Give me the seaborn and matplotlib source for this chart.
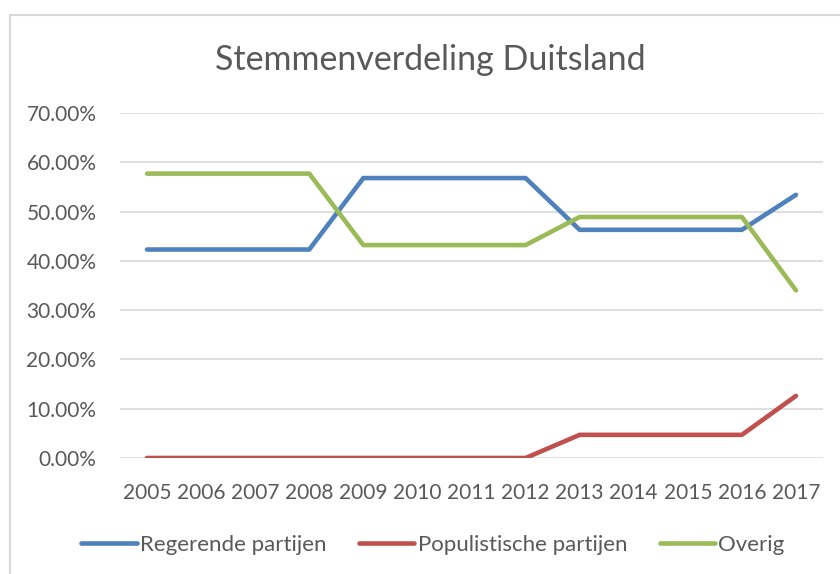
import matplotlib
matplotlib.use("Agg")
import matplotlib.pyplot as plt
from matplotlib.lines import Line2D
from matplotlib.ticker import FuncFormatter
import seaborn as sns
import pandas as pd

years = [2005, 2006, 2007, 2008, 2009, 2010, 2011, 2012, 2013, 2014, 2015, 2016, 2017]
regerende = [42.3, 42.3, 42.3, 42.3, 56.8, 56.8, 56.8, 56.8, 46.3, 46.3, 46.3, 46.3, 53.4]
populistisch = [0.0, 0.0, 0.0, 0.0, 0.0, 0.0, 0.0, 0.0, 4.7, 4.7, 4.7, 4.7, 12.6]
overig = [57.7, 57.7, 57.7, 57.7, 43.2, 43.2, 43.2, 43.2, 48.9, 48.9, 48.9, 48.9, 34.0]
series_names = ["Regerende partijen", "Populistische partijen", "Overig"]
colors = ["#4F81BD", "#C0504D", "#9BBB59"]

df = pd.concat([
    pd.DataFrame({"Jaar": years, "Aandeel": vals, "Serie": name})
    for name, vals in zip(series_names, [regerende, populistisch, overig])
], ignore_index=True)

sns.set_theme(style="white")
plt.rcParams['font.family'] = ['Lato', 'DejaVu Sans']
text_color = "#595959"

fig = plt.figure(figsize=(8.4, 5.74), dpi=100)
ax = fig.add_axes([120/840, 1-458/574, (823-120)/840, (458-113)/574])

sns.lineplot(data=df, x="Jaar", y="Aandeel", hue="Serie", palette=colors,
             hue_order=series_names, linewidth=3.3, ax=ax, legend=False,
             solid_capstyle="round", sort=False)

ax.set_xlim(2004.5, 2017.5)
ax.set_ylim(0, 70)
ax.set_yticks(range(0, 71, 10))
ax.yaxis.set_major_formatter(FuncFormatter(lambda v, p: f"{v:.2f}%"))
ax.set_xticks(years)
ax.set_xticklabels([str(y) for y in years])
ax.grid(axis="y", color="#D9D9D9", linewidth=1.2)
ax.set_axisbelow(True)
for s in ax.spines.values():
    s.set_visible(False)
ax.tick_params(axis="both", length=0, labelsize=15, colors=text_color)
ax.tick_params(axis="y", pad=17)
ax.tick_params(axis="x", pad=18)
ax.set_xlabel("")
ax.set_ylabel("")

fig.text(430/840, 1-60/574, "Stemmenverdeling Duitsland", ha="center", va="center",
         fontsize=24.5, color=text_color)

handles = [Line2D([0], [0], color=c, linewidth=3.3, solid_capstyle="round") for c in colors]
fig.legend(handles, series_names, loc="center", bbox_to_anchor=(433/840, 1-545/574),
           ncol=3, frameon=False, fontsize=16, labelcolor=text_color,
           handlelength=2.5, handletextpad=0.15, columnspacing=1.45)

fig.add_artist(Line2D([10/840, 10/840], [0, 1-15/574], transform=fig.transFigure,
                      color="#D9D9D9", linewidth=1.5))
fig.add_artist(Line2D([10/840, 1], [1-15/574, 1-15/574], transform=fig.transFigure,
                      color="#D9D9D9", linewidth=1.5))

fig.savefig("out.png", dpi=100)
